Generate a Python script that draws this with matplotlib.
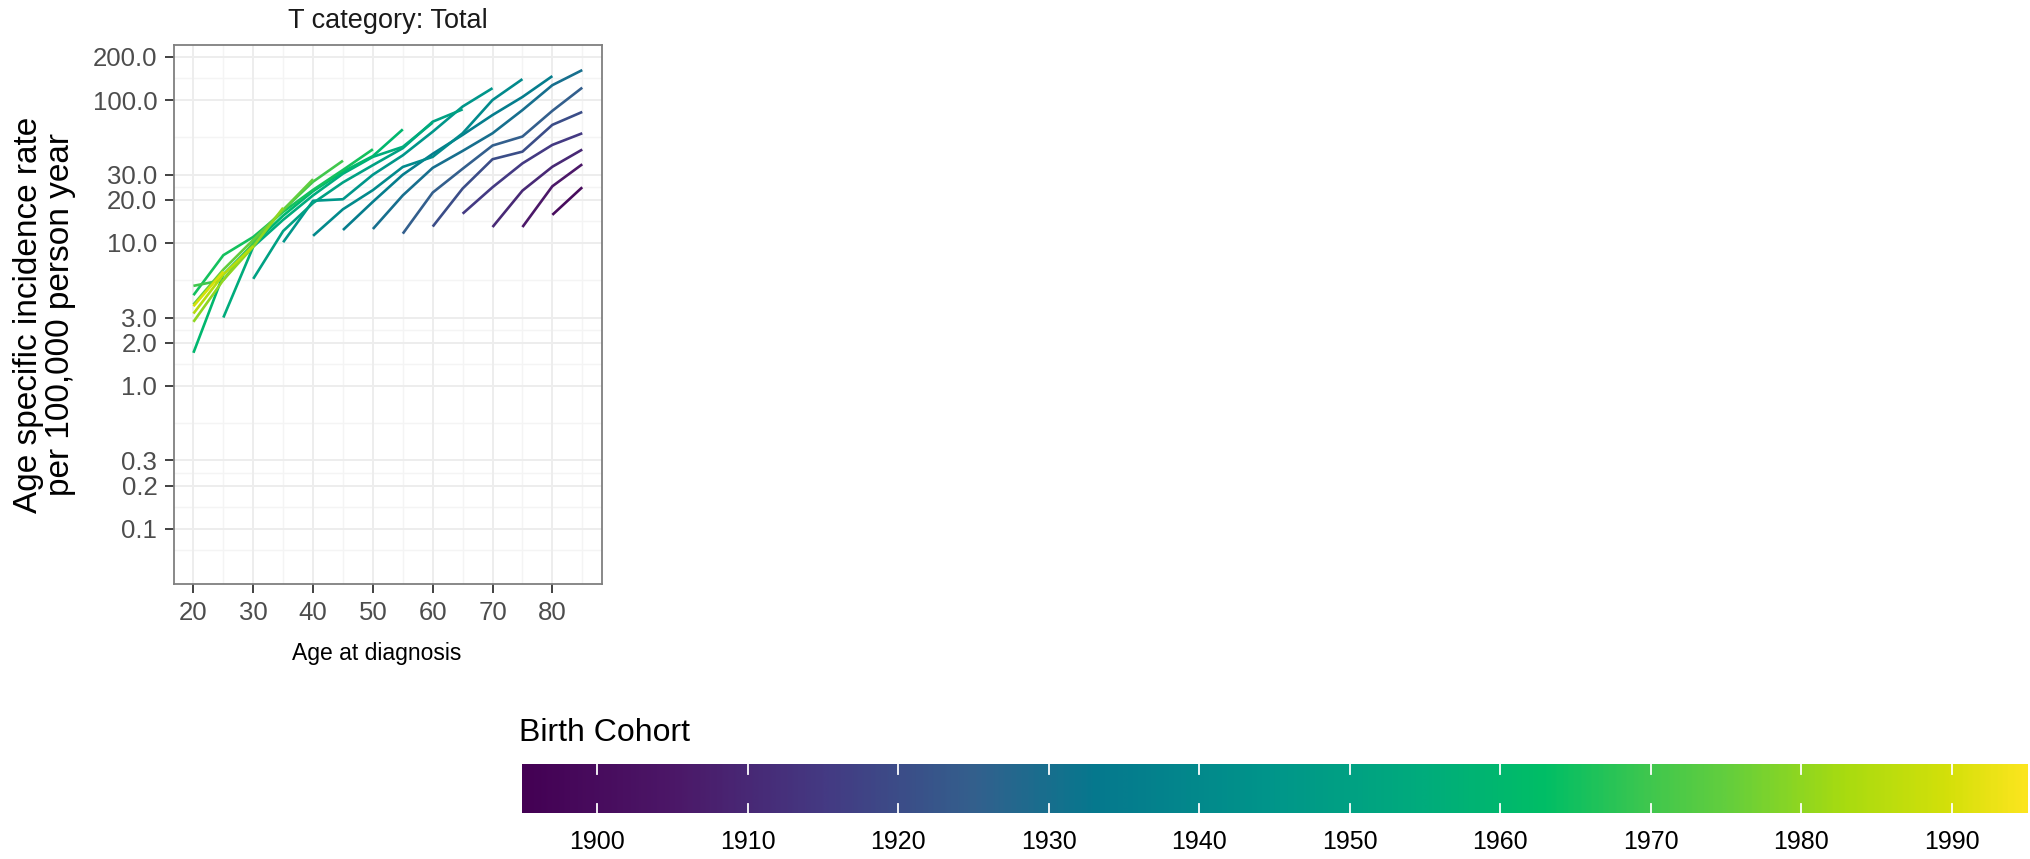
import numpy as np
import pandas as pd
import matplotlib
matplotlib.use("Agg")
import matplotlib.pyplot as plt
from matplotlib.colors import LinearSegmentedColormap, Normalize

plt.rcParams['font.family'] = ['Liberation Sans', 'DejaVu Sans']

# Age specific incidence rates (per 100,000 person years), one list per period
ages = [20, 25, 30, 35, 40, 45, 50, 55, 60, 65, 70, 75, 80, 85]
periods = [1980, 1985, 1990, 1995, 2000, 2005, 2010, 2015]

rate_1980 = [1.7, 3.0, 5.6, 10.1, 11.2, 12.3, 12.5, 11.6, 13.0, 16.0, 12.9, 12.9, 15.7, 14.0]
rate_1985 = [4.3, 6.0, 9.4, 12.1, 19.7, 17.2, 19.4, 21.5, 22.5, 24.0, 24.5, 23.2, 24.9, 24.5]
rate_1990 = [5.0, 8.2, 9.8, 14.5, 19.0, 20.2, 23.4, 30.0, 33.5, 33.0, 38.5, 36.0, 34.1, 35.5]
rate_1995 = [3.7, 5.5, 11.0, 15.5, 21.5, 26.5, 30.0, 34.0, 42.0, 44.0, 48.0, 43.5, 48.5, 45.0]
rate_2000 = [2.8, 6.5, 10.0, 16.5, 23.0, 30.5, 35.0, 41.0, 40.0, 57.0, 58.5, 55.5, 67.0, 58.5]
rate_2005 = [3.2, 5.5, 10.5, 17.0, 23.5, 31.5, 40.0, 46.0, 60.0, 58.5, 78.5, 85.0, 84.0, 82.5]
rate_2010 = [3.6, 6.0, 9.4, 17.0, 26.8, 32.4, 40.5, 47.0, 70.5, 90.0, 100.0, 105.0, 127.0, 122.0]
rate_2015 = [3.3, 6.3, 9.5, 17.6, 27.9, 37.6, 45.2, 62.3, 69.5, 86.0, 121.0, 140.0, 147.0, 162.0]

y_breaks = [0.1, 0.2, 0.3, 1, 2, 3, 10, 20, 30, 100, 200]
x_breaks = [20, 30, 40, 50, 60, 70, 80]
cohort_breaks = [1900, 1910, 1920, 1930, 1940, 1950, 1960, 1970, 1980, 1990]

rates = [rate_1980, rate_1985, rate_1990, rate_1995, rate_2000, rate_2005, rate_2010, rate_2015]
rows = []
for period, vals in zip(periods, rates):
    for age, val in zip(ages, vals):
        rows.append({'period': period, 'age': age, 'rate': val, 'cohort': period - age})
df = pd.DataFrame(rows)

# viridis-style palette
cmap = LinearSegmentedColormap.from_list('cohort', [
    (0.00, '#440154'), (0.10, '#4C1868'), (0.20, '#443A83'), (0.30, '#33608D'),
    (0.38, '#06788E'), (0.50, '#00968A'), (0.60, '#00AC7C'), (0.68, '#00BE66'),
    (0.75, '#3FC74E'), (0.80, '#62CE3E'), (0.88, '#A8DB10'), (0.95, '#D4E00A'),
    (1.00, '#FBE51E')])
c_min, c_max = df['cohort'].min(), df['cohort'].max()
norm = Normalize(c_min, c_max)

W, H = 2031, 859
fig = plt.figure(figsize=(W / 100, H / 100), dpi=100)

def fx(px):
    return px / W

def fy(py):
    return 1 - py / H

ax = fig.add_axes([fx(174), fy(584), fx(601.7 - 174), (584 - 45) / H])
ax.set_yscale('log')
ax.set_xlim(16.75, 88.25)
ax.set_ylim(10 ** -1.388, 10 ** 2.385)

# grid: major + minor (midpoints in log space)
lb = np.log10(y_breaks)
minor_y = list(10 ** ((lb[:-1] + lb[1:]) / 2)) + [10 ** (lb[0] - 0.15), 10 ** (lb[-1] + 0.15)]
for v in minor_y:
    ax.axhline(v, color='#F4F4F4', lw=1.0, zorder=0)
for v in [25, 35, 45, 55, 65, 75, 85]:
    ax.axvline(v, color='#F4F4F4', lw=1.0, zorder=0)
for v in y_breaks:
    ax.axhline(v, color='#EDEDED', lw=1.4, zorder=0)
for v in x_breaks:
    ax.axvline(v, color='#EDEDED', lw=1.4, zorder=0)

for cohort, grp in df.sort_values(['cohort', 'age']).groupby('cohort'):
    if len(grp) < 2:
        continue
    ax.plot(grp['age'], grp['rate'], color=cmap(norm(cohort)), lw=1.9,
            solid_capstyle='butt', zorder=2)

ax.set_yticks(y_breaks)
ax.set_yticklabels([f'{v:.1f}' for v in y_breaks])
ax.yaxis.set_minor_locator(matplotlib.ticker.NullLocator())
ax.set_xticks(x_breaks)
ax.set_xticklabels([str(v) for v in x_breaks])
ax.tick_params(axis='both', length=6.5, width=1.3, color='#333333',
               labelcolor='#4D4D4D', labelsize=18.5, pad=5.5)
for sp in ax.spines.values():
    sp.set_color('#7F7F7F')
    sp.set_linewidth(1.3)

fig.text(fx(388), fy(28), 'T category: Total', ha='center', va='baseline',
         fontsize=19.5, color='#1A1A1A')
fig.text(fx(377), fy(660), 'Age at diagnosis', ha='center', va='baseline',
         fontsize=16.5, color='black')
fig.text(fx(29), fy(314.5), 'Age specific incidence rate', rotation=90,
         ha='center', va='center', fontsize=24, color='black')
fig.text(fx(61), fy(314.5), 'per 100,000 person year', rotation=90,
         ha='center', va='center', fontsize=24, color='black')

# horizontal colour bar legend
bar_left, bar_top, bar_bot = 518.3, 764.3, 813.3
px_per_year = 15.052
yr_left = 1900 - (597 - bar_left) / px_per_year
yr_right = 1900 + (W - 597) / px_per_year
cax = fig.add_axes([fx(bar_left), fy(bar_bot), fx(W - bar_left), (bar_bot - bar_top) / H])
grad = np.linspace(c_min, c_max, 600).reshape(1, -1)
cax.imshow(grad, aspect='auto', cmap=cmap, norm=norm,
           extent=[c_min, c_max, 0, 1], interpolation='bilinear')
cax.set_xlim(yr_left, yr_right)
cax.set_ylim(0, 1)
for b in cohort_breaks:
    cax.plot([b, b], [0, 0.2], color='white', lw=1.3)
    cax.plot([b, b], [0.8, 1], color='white', lw=1.3)
    fig.text(fx(597 + (b - 1900) * px_per_year), fy(841.7), str(b),
             ha='center', va='center', fontsize=18, color='black')
cax.axis('off')
fig.text(fx(519.5), fy(733), 'Birth Cohort', ha='left', va='center',
         fontsize=23, color='black')

fig.savefig('out.png', dpi=100)
